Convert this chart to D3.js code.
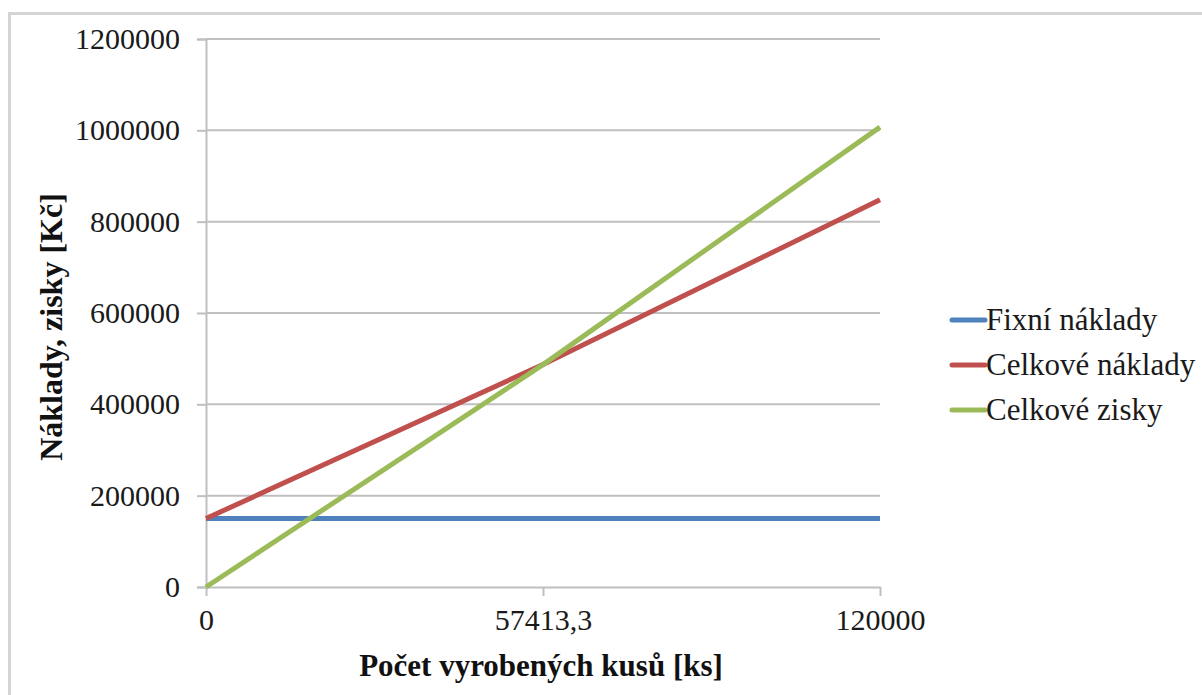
<!DOCTYPE html>
<html>
<head>
<meta charset="utf-8">
<script src="https://cdn.jsdelivr.net/npm/d3@7"></script>
<style>
    body { margin: 0; background: white; }
    text { font-family: "Liberation Serif", "DejaVu Serif", serif; }
</style>
</head>
<body>
<svg id="grafica"></svg>
<script>
// datos
const kusy = ['0', '57413,3', '120000'];
const fixniNaklady = [150000, 150000, 150000];
const celkoveNaklady = [150000, 487000, 848000];
const celkoveZisky = [0, 487000, 1007000];
const ticksY = [0, 200000, 400000, 600000, 800000, 1000000, 1200000];
const series = [
    { nombre: 'Fixní náklady', valores: fixniNaklady, color: '#4F81BD' },
    { nombre: 'Celkové náklady', valores: celkoveNaklady, color: '#C0504D' },
    { nombre: 'Celkové zisky', valores: celkoveZisky, color: '#9BBB59' }
];

/**
 * Funcion para graficar lineas
 * @param {*} svgId: id del svg
 * @param {*} ancho: tamaño horizontal
 * @param {*} alto: tamaño vertical
 */
function graficarLineas(svgId, ancho, alto) {

    const svg = d3.select('#' + svgId);
    svg.attr('width', ancho);
    svg.attr('height', alto);

    /**
     * Marco exterior
     */
    svg.append('rect')
        .attr('x', 9.5).attr('y', 13.5)
        .attr('width', ancho).attr('height', alto)
        .attr('fill', 'none')
        .attr('stroke', '#d4d4d4')
        .attr('stroke-width', 3);

    /**
     * Escalas
     */
    const x = d3.scalePoint().domain(kusy).range([206, 880]);
    const y = d3.scaleLinear().domain([0, 1200000]).range([587, 39]);

    /**
     * Lineas de la cuadricula y eje y
     */
    const ejeY = svg.append('g')
        .attr('transform', 'translate(206,0)')
        .call(d3.axisLeft(y).tickValues(ticksY).tickSize(9).tickPadding(17).tickFormat(d3.format('d')));
    ejeY.select('.domain').attr('stroke', '#bfbfbf').attr('stroke-width', 2);
    ejeY.selectAll('.tick line').attr('stroke', '#bfbfbf').attr('stroke-width', 2);
    ejeY.selectAll('.tick text')
        .attr('font-size', 30).attr('fill', '#1a1a1a');

    svg.append('g')
        .selectAll('line')
        .data(ticksY.filter(d => d > 0))
        .join('line')
        .attr('x1', 206).attr('x2', 880)
        .attr('y1', d => y(d)).attr('y2', d => y(d))
        .attr('stroke', '#bfbfbf').attr('stroke-width', 2);

    /**
     * Eje x
     */
    const ejeX = svg.append('g')
        .attr('transform', 'translate(0,587)')
        .call(d3.axisBottom(x).tickSize(9).tickPadding(13).tickSizeOuter(0));
    ejeX.select('.domain').attr('stroke', '#bfbfbf').attr('stroke-width', 2);
    ejeX.selectAll('.tick line').attr('stroke', '#bfbfbf').attr('stroke-width', 2);
    ejeX.selectAll('.tick text')
        .attr('font-size', 30).attr('fill', '#1a1a1a');

    /**
     * Lineas de las series
     */
    const linea = d3.line()
        .x((d, i) => x(kusy[i]))
        .y(d => y(d));

    svg.append('g')
        .selectAll('path')
        .data(series)
        .join('path')
        .attr('d', d => linea(d.valores))
        .attr('fill', 'none')
        .attr('stroke', d => d.color)
        .attr('stroke-width', 5);

    /**
     * Titulos de los ejes
     */
    svg.append('text')
        .attr('x', 541).attr('y', 676)
        .attr('text-anchor', 'middle')
        .attr('font-size', 31).attr('font-weight', 'bold').attr('fill', '#111')
        .text('Počet vyrobených kusů [ks]');

    svg.append('text')
        .attr('transform', 'translate(62,' + 327 + ') rotate(-90)')
        .attr('text-anchor', 'middle')
        .attr('font-size', 32).attr('font-weight', 'bold').attr('fill', '#111')
        .text('Náklady, zisky [Kč]');

    /**
     * Leyenda
     */
    const leyenda = svg.append('g')
        .selectAll('g')
        .data(series)
        .join('g')
        .attr('transform', (d, i) => 'translate(952,' + (320 + i * 45) + ')');

    leyenda.append('line')
        .attr('x1', 0).attr('x2', 33)
        .attr('stroke', d => d.color)
        .attr('stroke-width', 5)
        .attr('stroke-linecap', 'round');

    leyenda.append('text')
        .attr('x', 34).attr('y', 10)
        .attr('font-size', 31).attr('fill', '#1a1a1a')
        .text(d => d.nombre);
}

graficarLineas('grafica', 1202, 695);
</script>
</body>
</html>
